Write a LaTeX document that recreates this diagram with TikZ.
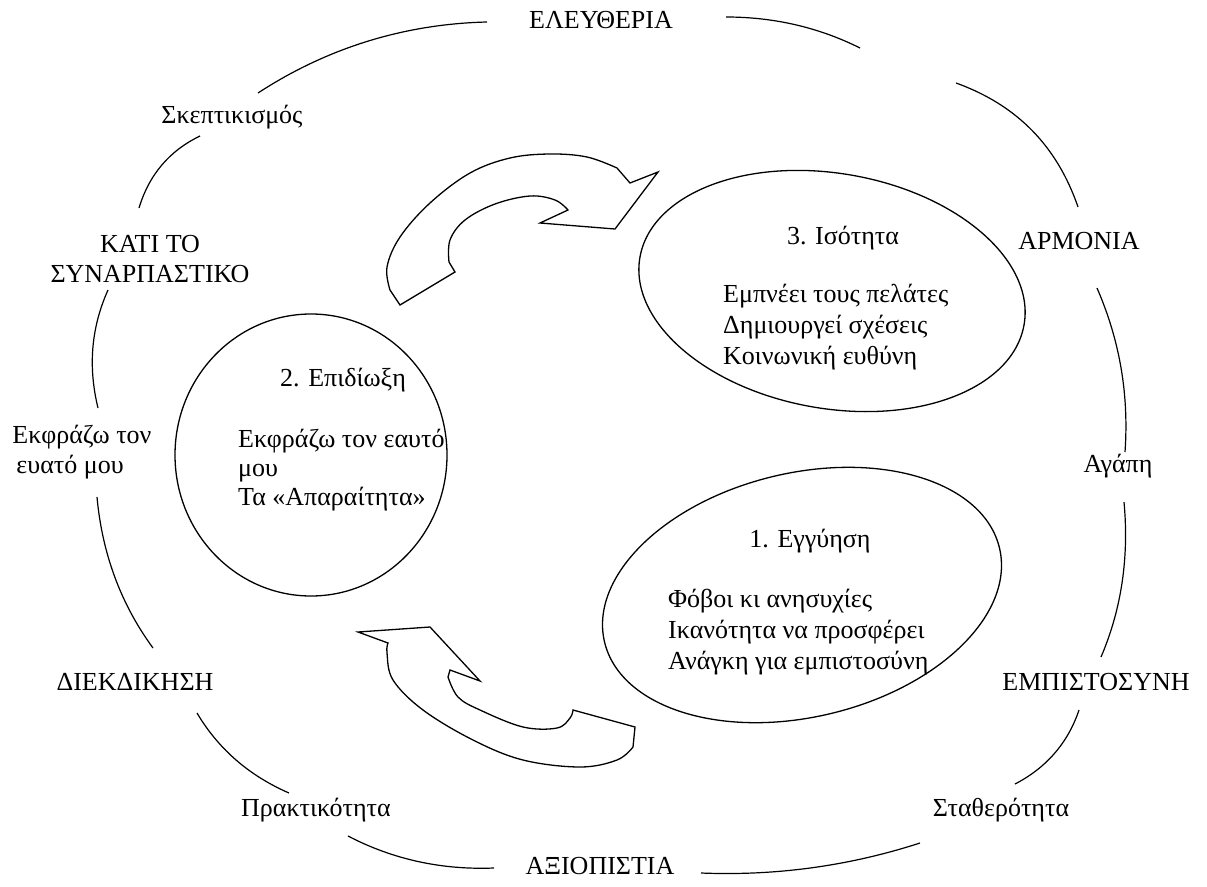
\documentclass[tikz,border=0pt]{standalone}
\usepackage{fontspec}
\setmainfont{Liberation Serif}
\usetikzlibrary{shapes.geometric}
\begin{document}
\begin{tikzpicture}[x=1pt,y=-1pt,
  lab/.style={font=\fontsize{26}{30.5}\selectfont, inner sep=0pt, text height=18pt, text depth=6pt},
  ring/.style={line width=1.2pt},
  ell/.style={draw, ellipse, inner sep=0pt, line width=1.3pt},
  blockarrow/.style={draw, line width=1.3pt, line join=miter}]
\useasboundingbox (0,0) rectangle (1207,886);

% outer labels
\node[lab] (elef) at (601,22) {ΕΛΕΥΘΕΡΙΑ};
\node[lab] (skep) at (232,117) {Σκεπτικισμός};
\node[lab, align=center, text height=, text depth=] (kati) at (150,259) {ΚΑΤΙ ΤΟ\\ΣΥΝΑΡΠΑΣΤΙΚΟ};
\node[lab] (armon) at (1079,243) {ΑΡΜΟΝΙΑ};
\node[lab, align=left, text height=, text depth=] (ekfr) at (82,452) {Εκφράζω τον\\\hspace*{4pt}ευατό μου};
\node[lab] (agapi) at (1118,466) {Αγάπη};
\node[lab] (diek) at (135,684) {ΔΙΕΚΔΙΚΗΣΗ};
\node[lab] (empi) at (1096,684) {ΕΜΠΙΣΤΟΣΥΝΗ};
\node[lab] (prakt) at (316,810) {Πρακτικότητα};
\node[lab] (stath) at (1001,810) {Σταθερότητα};
\node[lab] (axio) at (600,868) {ΑΞΙΟΠΙΣΤΙΑ};

% ring segments
\draw[ring] (258,93) .. controls (327,48) and (404,24) .. (487,22);
\draw[ring] (726,17) .. controls (773,17) and (818,27) .. (860,48);
\draw[ring] (956,83) .. controls (1017,105) and (1057,146) .. (1078,207);
\draw[ring] (200,136) .. controls (169,151) and (149,175) .. (139,208);
\draw[ring] (108,290) .. controls (91,328) and (88,367) .. (98,408);
\draw[ring] (97,497) .. controls (102,552) and (120,603) .. (153,648);
\draw[ring] (197,713) .. controls (219,750) and (250,776) .. (289,793);
\draw[ring] (348,836) .. controls (394,860) and (443,870) .. (494,868);
\draw[ring] (701,873) .. controls (776,876) and (849,866) .. (920,843);
\draw[ring] (1015,784) .. controls (1046,768) and (1068,743) .. (1079,710);
\draw[ring] (1101,657) .. controls (1122,608) and (1129,556) .. (1124,502);
\draw[ring] (1097,288) .. controls (1120,341) and (1129,395) .. (1125,452);

% ellipses
\node[ell, minimum width=272pt, minimum height=282pt] (e2) at (311,455) {};
\node[ell, rotate=-10, minimum width=390pt, minimum height=235pt] (e3) at (832,291) {};
\node[ell, rotate=13.4, minimum width=406pt, minimum height=244pt] (e1) at (802,595) {};

% ellipse texts
\node[lab] (t2) at (343,380) {2. Επιδίωξη};
\node[lab, anchor=west] (t2a) at (238,441) {Εκφράζω τον εαυτό};
\node[lab, anchor=west] (t2b) at (238,470) {μου};
\node[lab, anchor=west] (t2c) at (238,499) {Τα «Απαραίτητα»};

\node[lab] (t3) at (843,238) {3. Ισότητα};
\node[lab, anchor=west] (t3a) at (723,296) {Εμπνέει τους πελάτες};
\node[lab, anchor=west] (t3b) at (723,327) {Δημιουργεί σχέσεις};
\node[lab, anchor=west] (t3c) at (723,358) {Κοινωνική ευθύνη};

\node[lab] (t1) at (810,541) {1. Εγγύηση};
\node[lab, anchor=west] (t1a) at (668,601) {Φόβοι κι ανησυχίες};
\node[lab, anchor=west] (t1b) at (668,632) {Ικανότητα να προσφέρει};
\node[lab, anchor=west] (t1c) at (668,663) {Ανάγκη για εμπιστοσύνη};

% curved block arrows
\draw[blockarrow] (400,305) -- (455,272) -- plot[smooth, tension=0.6] coordinates {(449,262) (450,240) (465,220) (495,204) (530,196) (555,200) (568,210)} -- (540,223) -- (615,229) -- (658,172) -- (630,183) -- plot[smooth, tension=0.6] coordinates {(617,168) (587,157) (550,154) (510,158) (470,173) (430,203) (400,237) (387,267) (390,290)} -- cycle;

\draw[blockarrow] (358,632) -- (430,627) -- (480,681) -- (450,670) -- plot[smooth, tension=0.6] coordinates {(448,677) (458,697) (480,710) (523,727) (557,728) (570,718) (573,710)} -- (635,727) -- plot[smooth, tension=0.6] coordinates {(633,747) (617,760) (580,767) (523,760) (473,740) (423,710) (393,680) (387,653) (388,643)} -- cycle;
\end{tikzpicture}
\end{document}
